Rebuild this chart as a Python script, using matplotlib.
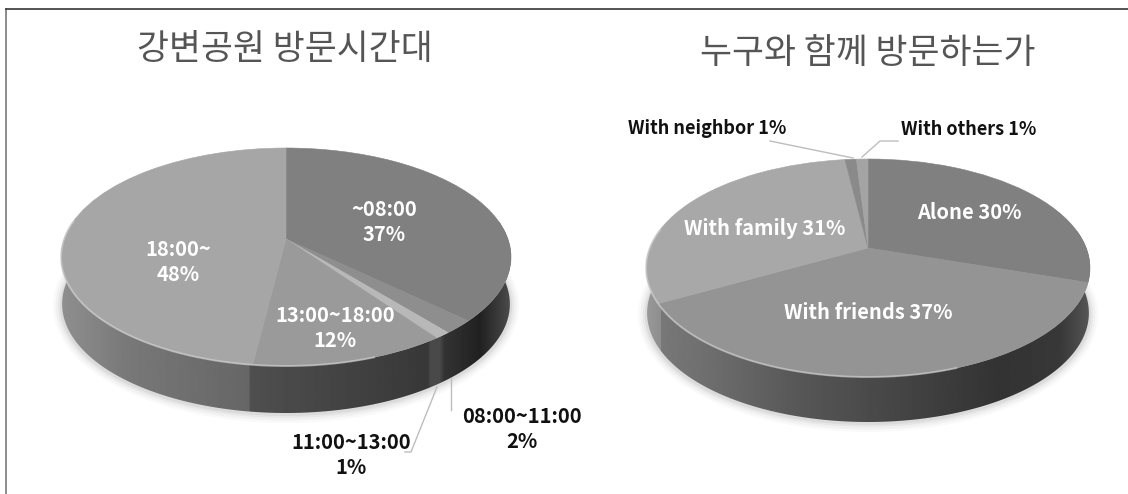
import numpy as np
import matplotlib
matplotlib.use("Agg")
import matplotlib.pyplot as plt
from matplotlib.patches import Polygon, Ellipse
from matplotlib.transforms import Transform

plt.rcParams['font.family'] = ['Noto Sans CJK KR', 'DejaVu Sans']

# ---- data ----
left_title = "강변공원 방문시간대"
left_categories = ["~08:00", "08:00~11:00", "11:00~13:00", "13:00~18:00", "18:00~"]
left_values = [37, 2, 1, 12, 48]
right_title = "누구와 함께 방문하는가"
right_categories = ["Alone", "With friends", "With family", "With neighbor", "With others"]
right_values = [30, 37, 31, 1, 1]

# ---- styles ----
left_colors = ["#808080", "#8e8e8e", "#b8b8b8", "#9a9a9a", "#a6a6a6"]
right_colors = ["#808080", "#949494", "#a8a8a8", "#8a8a8a", "#a4a4a4"]
left_geom = dict(cx=286, hub=239, top=148, bottom=366, rx=225, depth=47)
right_geom = dict(cx=868, hub=248, top=159, bottom=377, rx=222, depth=45)
left_wall = ([61, 130, 249, 250, 428, 431, 440, 445, 480, 511],
             [0.56, 0.47, 0.40, 0.31, 0.22, 0.29, 0.29, 0.20, 0.13, 0.30])
right_wall = ([646, 660, 661, 700, 800, 900, 1000, 1060, 1090],
              [0.60, 0.56, 0.47, 0.44, 0.34, 0.27, 0.20, 0.22, 0.34])


class Perspective(Transform):
    input_dims = output_dims = 2
    is_separable = False
    has_inverse = False

    def __init__(self, g):
        super().__init__()
        T, B = g['hub'] - g['top'], g['bottom'] - g['hub']
        self.k = (B - T) / (B + T)
        self.a = T * (1 + self.k)
        self.c = g['rx'] * np.sqrt(1 - self.k ** 2)
        self.cx, self.hub = g['cx'], g['hub']

    def transform_non_affine(self, values):
        values = np.asarray(values, float)
        u, v = values[:, 0], values[:, 1]
        w = 1 + self.k * v
        return np.column_stack([self.cx + self.c * u / w, self.hub - self.a * v / w])


fig = plt.figure(figsize=(11.28, 4.94), dpi=100, facecolor="white")
ax = fig.add_axes([0, 0, 1, 1])


def draw_pie(values, colors, g, wall):
    tr = Perspective(g)
    angles = np.linspace(-10, 190, 200)
    theta = np.radians(angles)
    rim = tr.transform_non_affine(np.column_stack([np.cos(theta), -np.sin(theta)]))
    cy_mid = (g['top'] + g['bottom']) / 2
    ry = (g['bottom'] - g['top']) / 2

    # soft shadow
    for grow, alpha in [(16, 0.025), (11, 0.03), (6, 0.04), (2, 0.05)]:
        ax.add_patch(Ellipse((g['cx'], cy_mid + g['depth'] + 2), 2 * g['rx'] + grow,
                             2 * ry + grow, fc="black", ec="none", alpha=alpha, zorder=1))

    # wall
    lower = rim.copy()
    lower[:, 0] = g['cx'] + (lower[:, 0] - g['cx']) * 0.995
    lower[:, 1] += g['depth']
    poly = Polygon(np.vstack([rim, lower[::-1]]), closed=True, fc="none", ec="none",
                   transform=ax.transData)
    ax.add_patch(poly)
    xs = np.arange(g['cx'] - g['rx'] - 2, g['cx'] + g['rx'] + 2)
    shade = np.interp(xs, wall[0], wall[1])
    im = ax.imshow(shade[None, :], cmap="gray", vmin=0, vmax=1, aspect="auto", zorder=2,
                   extent=(xs[0], xs[-1], g['bottom'] + g['depth'] + 5, g['top']),
                   interpolation="bilinear")
    im.set_clip_path(poly)

    # top face
    wedges, _ = ax.pie(values, colors=colors, startangle=90, counterclock=False,
                       wedgeprops=dict(linewidth=0.4, zorder=3))
    for w, c in zip(wedges, colors):
        w.set_edgecolor(c)
        w.set_transform(tr + ax.transData)

    # bevel highlight on the front rim, left and centre only
    keep = angles >= 70
    ax.plot(rim[keep, 0], rim[keep, 1], color="#d4d4d4", lw=1.4, alpha=0.6, zorder=4)


draw_pie(left_values, left_colors, left_geom, left_wall)
draw_pie(right_values, right_colors, right_geom, right_wall)

ax.set_xlim(0, 1128)
ax.set_ylim(494, 0)
ax.set_aspect("auto")
ax.set_axis_off()

# frame
ax.plot([6, 6], [494, 9], color="#8c8c8c", lw=1.4, zorder=0)
ax.plot([6, 1128], [9, 9], color="#444444", lw=1.3, zorder=0)

# titles
ax.text(285, 50, left_title, fontsize=25, color="#555555", ha="center", va="center")
ax.text(868, 53, right_title, fontsize=25, color="#555555", ha="center", va="center")

# labels
white = dict(color="white", fontsize=14.5, fontweight="bold", ha="center", va="center",
             linespacing=1.2, zorder=6)
black = dict(color="#111111", fontsize=14.5, fontweight="bold", ha="center", va="center",
             linespacing=1.2, zorder=6)
black_small = dict(black, fontsize=13)
ax.text(384, 222, f"{left_categories[0]}\n{left_values[0]}%", **white)
ax.text(522, 429, f"{left_categories[1]}\n{left_values[1]}%", **black)
ax.text(351, 455, f"{left_categories[2]}\n{left_values[2]}%", **black)
ax.text(335, 328, f"{left_categories[3]}\n{left_values[3]}%", **white)
ax.text(178, 262, f"{left_categories[4]}\n{left_values[4]}%", **white)
ax.text(969, 212, f"{right_categories[0]} {right_values[0]}%", **white)
ax.text(868, 312, f"{right_categories[1]} {right_values[1]}%", **white)
ax.text(765, 228, f"{right_categories[2]} {right_values[2]}%", **white)
ax.text(707, 128, f"{right_categories[3]} {right_values[3]}%", **black_small)
ax.text(969, 129, f"{right_categories[4]} {right_values[4]}%", **black_small)

# leader lines
leader = dict(color="#bdbdbd", lw=1, zorder=5)
ax.plot([451, 451], [378, 410], **leader)
ax.plot([437, 411, 405], [387, 452, 452], **leader)
ax.plot([770, 853], [141, 158], **leader)
ax.plot([898, 880, 862], [141, 141, 157], **leader)

fig.savefig("out.png", dpi=100, facecolor="white")
